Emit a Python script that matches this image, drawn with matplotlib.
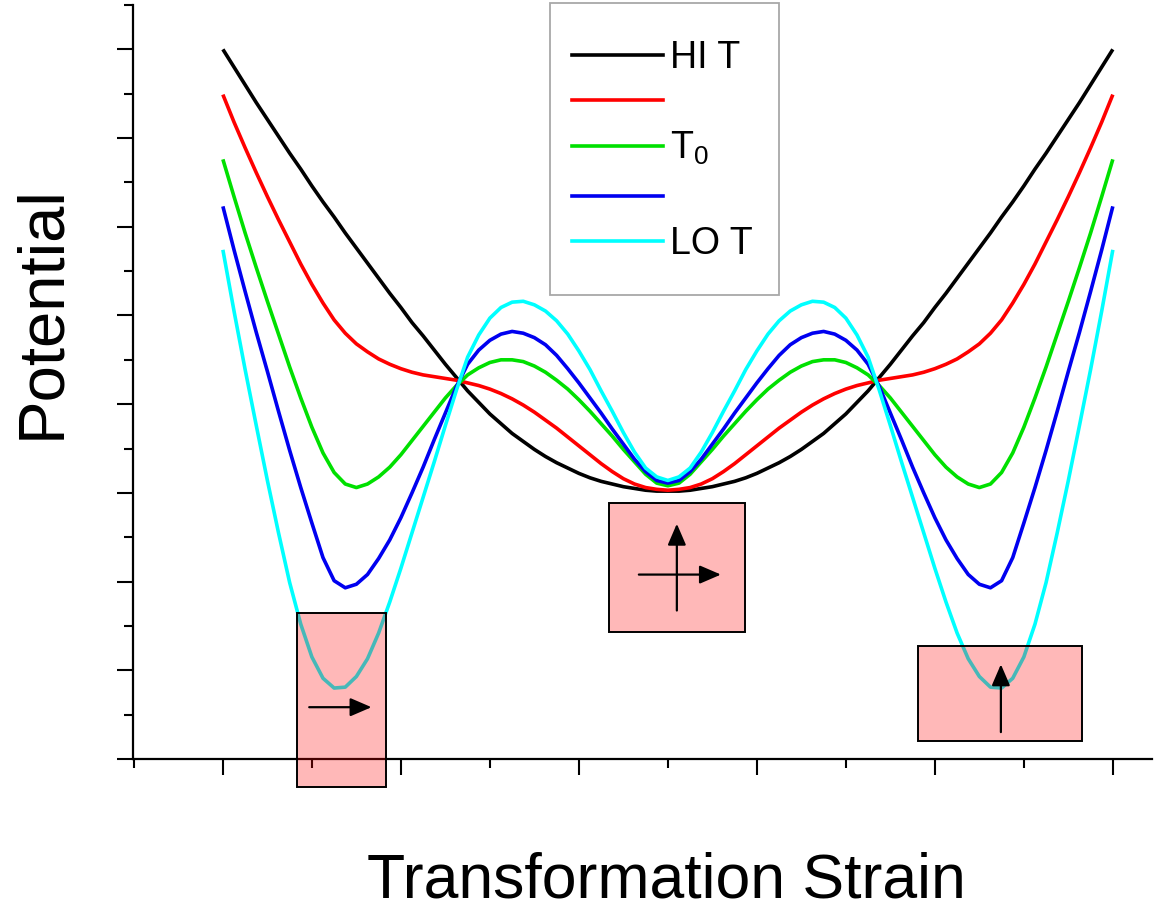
import numpy as np
import matplotlib
matplotlib.use('Agg')
import matplotlib.pyplot as plt
from matplotlib.patches import Rectangle
from matplotlib.lines import Line2D

plt.rcParams['font.family'] = ['Liberation Sans', 'DejaVu Sans']
plt.rcParams['mathtext.fontset'] = 'custom'
plt.rcParams['mathtext.rm'] = 'Liberation Sans'
plt.rcParams['mathtext.it'] = 'Liberation Sans:italic'

# ------------------------------------------------------------------
#  DATA  (curves are symmetric about zero strain: values for 0..5)
# ------------------------------------------------------------------
STRAIN_HALF = np.linspace(0, 5, 41)

HI_T = [3.02, 3.02, 3.03, 3.05, 3.07, 3.10, 3.13, 3.17, 3.22, 3.28,
        3.34, 3.41, 3.49, 3.58, 3.67, 3.78, 3.89, 4.02, 4.15, 4.30,
        4.45, 4.61, 4.77, 4.92, 5.09, 5.25, 5.42, 5.59, 5.76, 5.93,
        6.11, 6.28, 6.46, 6.65, 6.83, 7.02, 7.21, 7.40, 7.60, 7.80, 8.00]
MID_HI_T = [3.03, 3.04, 3.06, 3.10, 3.16, 3.24, 3.33, 3.43, 3.53, 3.63,
            3.73, 3.82, 3.91, 3.99, 4.06, 4.12, 4.17, 4.21, 4.24, 4.27,
            4.29, 4.31, 4.33, 4.36, 4.40, 4.45, 4.51, 4.59, 4.68, 4.80,
            4.95, 5.14, 5.35, 5.58, 5.83, 6.08, 6.34, 6.61, 6.89, 7.18, 7.49]
T_0 = [3.08, 3.11, 3.21, 3.35, 3.49, 3.64, 3.78, 3.92, 4.05, 4.17,
       4.27, 4.36, 4.43, 4.48, 4.50, 4.50, 4.47, 4.41, 4.33, 4.21,
       4.07, 3.91, 3.75, 3.59, 3.43, 3.29, 3.18, 3.10, 3.06, 3.10,
       3.23, 3.45, 3.74, 4.07, 4.42, 4.79, 5.16, 5.54, 5.93, 6.34, 6.76]
MID_LO_T = [3.11, 3.14, 3.24, 3.38, 3.55, 3.72, 3.90, 4.07, 4.24, 4.40,
            4.55, 4.67, 4.75, 4.80, 4.82, 4.79, 4.72, 4.61, 4.45, 4.20,
            3.90, 3.60, 3.29, 3.00, 2.72, 2.47, 2.26, 2.08, 1.97, 1.93,
            2.01, 2.27, 2.66, 3.06, 3.48, 3.92, 4.37, 4.81, 5.27, 5.74, 6.23]
LO_T = [3.14, 3.18, 3.28, 3.46, 3.68, 3.92, 4.15, 4.39, 4.60, 4.79,
        4.94, 5.05, 5.12, 5.16, 5.15, 5.09, 4.97, 4.78, 4.53, 4.16,
        3.76, 3.35, 2.95, 2.55, 2.15, 1.77, 1.42, 1.13, 0.93, 0.81,
        0.80, 0.91, 1.15, 1.52, 1.99, 2.55, 3.14, 3.76, 4.39, 5.05, 5.74]

SERIES = [HI_T, MID_HI_T, T_0, MID_LO_T, LO_T]
LABELS = ['HI T', '', 'T$_0$', '', 'LO T']
COLORS = ['#000000', '#ff0000', '#00e000', '#0000f0', '#00ffff']

# ------------------------------------------------------------------
#  FIGURE
# ------------------------------------------------------------------
W, H = 1158, 909


def fpx(x, y):
    """pixel position (from top-left) -> figure fraction"""
    return x / W, 1 - y / H


fig = plt.figure(figsize=(W / 100, H / 100), dpi=100)
ax = fig.add_axes([133 / W, 150 / H, 1019 / W, 754 / H])

strain = np.concatenate([-STRAIN_HALF[::-1], STRAIN_HALF[1:]])
for vals, col in zip(SERIES, COLORS):
    vals = np.asarray(vals)
    pot = np.concatenate([vals[::-1], vals[1:]])
    ax.plot(strain, pot, color=col, lw=2.6, solid_capstyle='butt',
            solid_joinstyle='round', zorder=3)

ax.set_xlim(-6.01, 5.44)
ax.set_ylim(0, 8.47)

ax.spines['top'].set_visible(False)
ax.spines['right'].set_visible(False)
for s in ('left', 'bottom'):
    ax.spines[s].set_linewidth(1.6)

ax.set_xticks([-5, -3, -1, 1, 3, 5])
ax.set_xticks([-6, -4, -2, 0, 2, 4], minor=True)
ax.set_yticks(np.arange(0, 9))
ax.set_yticks(np.arange(0.5, 9, 1.0), minor=True)
ax.tick_params(which='major', direction='out', length=11.5, width=1.5,
               labelbottom=False, labelleft=False)
ax.tick_params(which='minor', direction='out', length=6.5, width=1.5)

# shaded boxes with strain direction arrows
box_face = (1, 0, 0, 0.28)
for (x0, y0, w, h) in [(-4.17, -0.315, 1.0, 1.965),
                       (-0.663, 1.427, 1.528, 1.461),
                       (2.809, 0.202, 1.843, 1.068)]:
    ax.add_patch(Rectangle((x0, y0), w, h, facecolor=box_face,
                           edgecolor='black', lw=1.4, zorder=6, clip_on=False))

arrow_kw = dict(arrowstyle='-|>,head_length=0.65,head_width=0.28',
                mutation_scale=20, lw=1.6, color='black',
                shrinkA=0, shrinkB=0)
for start, end in [((-4.03, 0.584), (-3.33, 0.584)),
                   ((0.101, 1.674), (0.101, 2.652)),
                   ((-0.326, 2.079), (0.596, 2.079)),
                   ((3.742, 0.303), (3.742, 1.067))]:
    ax.annotate('', xy=end, xytext=start, arrowprops=arrow_kw, zorder=8,
                annotation_clip=False)

# legend box drawn by hand to keep the empty rows evenly spaced
x0, y0 = fpx(550, 295)
fig.add_artist(Rectangle((x0, y0), 229 / W, 292 / H, transform=fig.transFigure,
                         facecolor='white', edgecolor='#a8a8a8', lw=1.3))
row_y = [55, 100, 146, 196, 241]
for ry, lab, col in zip(row_y, LABELS, COLORS):
    xa, ya = fpx(572, ry)
    xb, _ = fpx(663, ry)
    fig.add_artist(Line2D([xa, xb], [ya, ya], transform=fig.transFigure,
                          color=col, lw=2.6))
    if lab:
        tx, ty = fpx(670, ry + 13)
        fig.text(tx, ty, lab, fontsize=27, va='baseline', ha='left')

# axis titles
fig.text(*fpx(42, 312), 'Potential', fontsize=47, rotation=90,
         ha='center', va='center')
fig.text(*fpx(666, 897), 'Transformation Strain', fontsize=45,
         ha='center', va='baseline')

fig.savefig('out.png', dpi=100)
